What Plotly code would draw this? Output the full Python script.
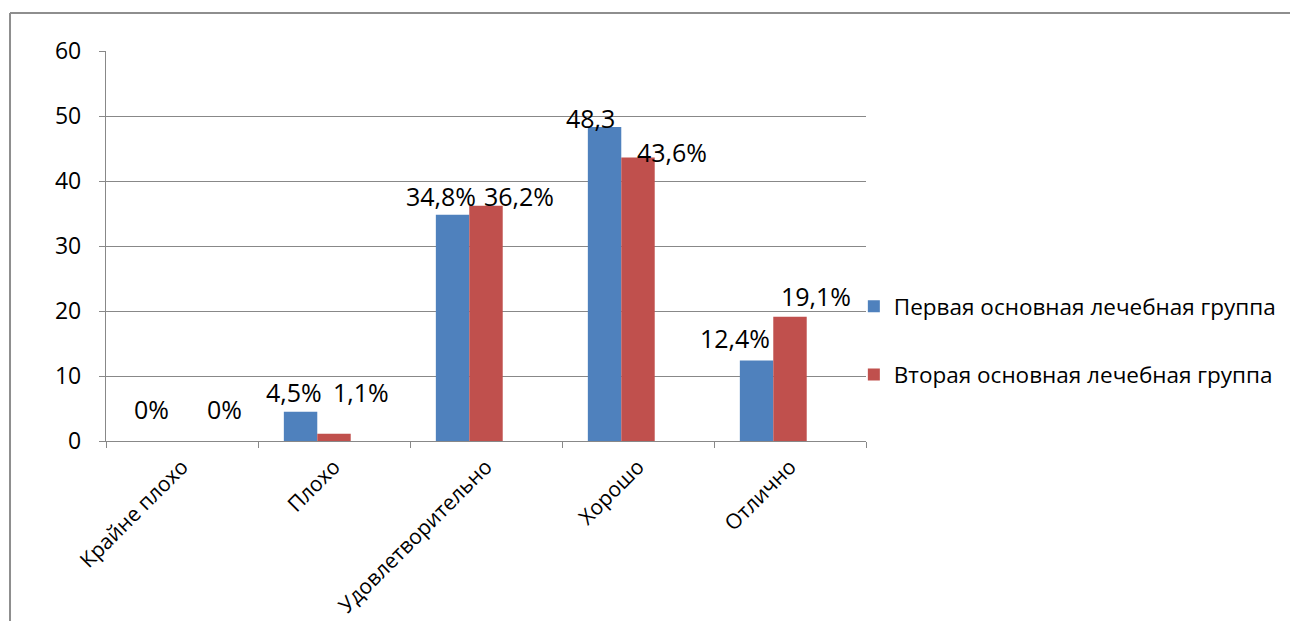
import plotly.graph_objects as go

# Rating categories and the share of patients in each group (%)
categories = ["Крайне плохо", "Плохо", "Удовлетворительно", "Хорошо", "Отлично"]
group1_name = "Первая основная лечебная группа"
group2_name = "Вторая основная лечебная группа"
group1_values = [0, 4.5, 34.8, 48.3, 12.4]
group2_values = [0, 1.1, 36.2, 43.6, 19.1]
group1_labels = ["0%", "4,5%", "34,8%", "48,3", "12,4%"]
group2_labels = ["0%", "1,1%", "36,2%", "43,6%", "19,1%"]

BLUE = "#4f81bd"
RED = "#c0504d"
GRID = "#888888"
FONT = "Open Sans"

# Pixel offsets of the value labels relative to the top of each bar's category
g1_dx = [-31, -40, -45, -48, -55]
g1_dy = [32, 20, 19, 9, 22]
g2_dx = [42, 27, 33, 34, 26]
g2_dy = [32, 42, 10, 6, 21]

fig = go.Figure()
fig.add_trace(go.Bar(x=categories, y=group1_values, name=group1_name,
                     marker=dict(color=BLUE, line=dict(width=0)),
                     legendgroup="g1"))
fig.add_trace(go.Bar(x=categories, y=group2_values, name=group2_name,
                     marker=dict(color=RED, line=dict(width=0)),
                     legendgroup="g2"))
# empty third slot in every group (keeps the pair shifted left)
fig.add_trace(go.Bar(x=categories, y=[None] * len(categories), showlegend=False,
                     hoverinfo="skip"))

annotations = []
for cat, v, t, dx, dy in zip(categories, group1_values, group1_labels, g1_dx, g1_dy):
    annotations.append(dict(x=cat, y=v, text=t, showarrow=False, xshift=dx, yshift=dy,
                            font=dict(family=FONT, size=25, color="black")))
for cat, v, t, dx, dy in zip(categories, group2_values, group2_labels, g2_dx, g2_dy):
    annotations.append(dict(x=cat, y=v, text=t, showarrow=False, xshift=dx, yshift=dy,
                            font=dict(family=FONT, size=25, color="black")))

# chart frame (outer border)
shapes = [
    dict(type="line", xref="paper", yref="paper", x0=-0.1263, x1=1.6, y0=1.0974, y1=1.0974,
         line=dict(color="#8e8e8e", width=2)),
    dict(type="line", xref="paper", yref="paper", x0=-0.1263, x1=-0.1263, y0=1.0974, y1=-0.6,
         line=dict(color="#8e8e8e", width=2)),
]

fig.update_layout(
    width=1290, height=621,
    margin=dict(l=106, r=424, t=51, b=180, autoexpand=False),
    paper_bgcolor="white", plot_bgcolor="white",
    barmode="group", bargap=0.34, bargroupgap=0,
    font=dict(family=FONT, size=20, color="black"),
    annotations=annotations,
    shapes=shapes,
    legend=dict(x=0.984, xanchor="left", y=0.40, yanchor="top",
                font=dict(family=FONT, size=22.5, color="black"),
                bgcolor="rgba(0,0,0,0)", tracegroupgap=36,
                itemclick=False),
    xaxis=dict(showline=True, linecolor=GRID, linewidth=1.3, automargin=False,
               ticks="outside", ticklen=6, tickcolor=GRID, tickwidth=1.3,
               tickson="boundaries", ticklabelstandoff=4,
               tickangle=-45, tickfont=dict(family=FONT, size=21, color="black"),
               showgrid=False),
    yaxis=dict(range=[0, 60], dtick=10, showline=True, linecolor=GRID, linewidth=1.3,
               automargin=False,
               ticks="outside", ticklen=6, tickcolor=GRID, tickwidth=1.3,
               gridcolor=GRID, gridwidth=1.3, zeroline=False,
               ticklabelstandoff=13,
               tickfont=dict(family=FONT, size=23, color="black")),
)

fig.write_html("out.html")
